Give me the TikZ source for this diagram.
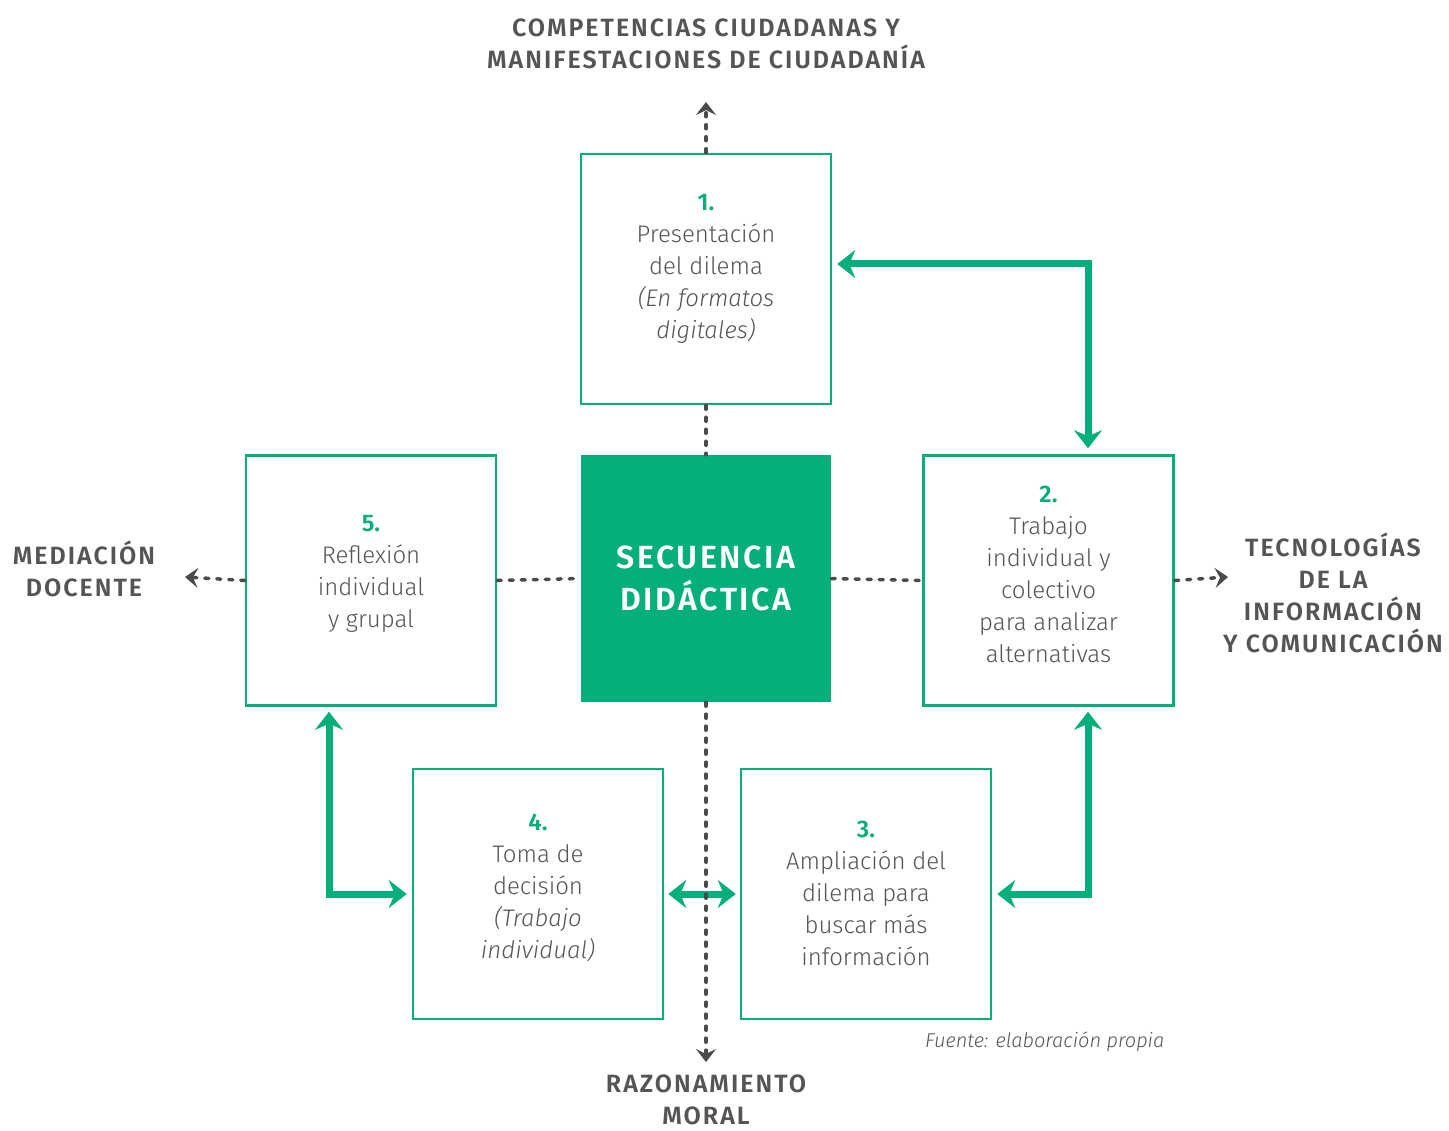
\documentclass[tikz,border=0pt]{standalone}
\usepackage{fontspec}
\setmainfont{Fira Sans Light}[ItalicFont={Fira Sans Light Italic},BoldFont={Fira Sans SemiBold}]
\newfontfamily\headfont{Fira Sans SemiBold}[LetterSpace=8]
\newfontfamily\numfont{Fira Sans SemiBold}
\usetikzlibrary{arrows.meta,calc}
\definecolor{gr}{HTML}{04AF7B}
\definecolor{tx}{HTML}{555555}
\definecolor{dl}{HTML}{4A4A4A}
\tikzset{
  box/.style={draw=gr,line width=2.5pt,minimum width=250pt,minimum height=250pt,inner sep=0pt},
  body/.style={text=tx,align=center,font=\fontsize{24}{32}\selectfont,inner sep=0pt},
  head/.style={text=tx,align=center,font=\headfont\fontsize{25}{32}\selectfont,inner sep=0pt},
  dline/.style={draw=dl,line width=3.5pt,line cap=round,dash pattern=on 4pt off 8pt},
  dtip/.style={-{Stealth[length=13pt,width=20pt,inset=5pt]}},
  garrow/.style={draw=gr,line width=7pt,{Stealth[length=18pt,width=28pt,inset=6pt]}-{Stealth[length=18pt,width=28pt,inset=6pt]}},
}
\newcommand{\nm}[1]{{\numfont\color{gr}#1}}
\begin{document}
\begin{tikzpicture}[x=1pt,y=-1pt]
\useasboundingbox[fill=white] (0,0) rectangle (1449,1131);
% boxes
\node[box] (b1) at (706,279) {};
\node[box] (b2) at (1048.5,580.5) {};
\node[box] (b5) at (371,580.5) {};
\node[box] (b4) at (538,894) {};
\node[box] (b3) at (866,894) {};
\node[fill=gr,minimum width=250pt,minimum height=247pt,inner sep=0pt] (c) at (706,578.5) {};
% box texts
\node[body] (t1) at (706,269) {\nm{1.}\\Presentación\\del dilema\\\textit{(En formatos}\\\textit{digitales)}};
\node[body] (t2) at (1048.5,574) {\nm{2.}\\Trabajo\\individual y\\colectivo\\para analizar\\alternativas};
\node[body] (t5) at (371,574) {\nm{5.}\\Reflexión\\individual\\y grupal};
\node[body] (t4) at (538,888) {\nm{4.}\\Toma de\\decisión\\\textit{(Trabajo}\\\textit{individual)}};
\node[body] (t3) at (866,893) {\nm{3.}\\Ampliación del\\dilema para\\buscar más\\información};
\node[text=white,align=center,font=\headfont\fontsize{32}{42}\selectfont,inner sep=0pt] (tc) at (706,578) {SECUENCIA\\DIDÁCTICA};
% outer labels
\node[head] (lt) at (706,44) {COMPETENCIAS CIUDADANAS Y\\MANIFESTACIONES DE CIUDADANÍA};
\node[head] (ll) at (84,569) {MEDIACIÓN\\DOCENTE};
\node[head] (lr) at (1333,593) {TECNOLOGÍAS\\DE LA\\INFORMACIÓN\\Y COMUNICACIÓN};
\node[head] (lb) at (706,1100) {RAZONAMIENTO\\MORAL};
\node[text=tx,font=\itshape\fontsize{20}{24}\selectfont,inner sep=0pt,anchor=west] (src) at (925,1042) {Fuente: elaboración propia};
% tip coordinates
\coordinate (tt) at (706,102);
\coordinate (tb) at (706,1062);
\coordinate (tl) at (185,577);
\coordinate (tr) at (1228,577);
% green arrows
\draw[garrow] ([shift={(5,-15)}]b1.east) -| ([shift={(39.5,-6)}]b2.north);
\draw[garrow] ([shift={(39.5,5)}]b2.south) |- ([xshift=5]b3.east);
\draw[garrow] ([xshift=4]b4.east) -- ([xshift=-4]b3.west);
\draw[garrow] ([shift={(-42,5)}]b5.south) |- ([xshift=-5]b4.west);
% dashed lines
\draw[dline] (b1.south) -- (c.north);
\draw[dline] (b5.east) -- (c.west);
\draw[dline] (c.east) -- (b2.west);
\draw[dline,dtip] (b1.north) -- (tt);
\draw[dline,dtip] (c.south) -- (tb);
\draw[dline,dtip] (b5.west) -- (tl);
\draw[dline,dtip] (b2.east) -- (tr);
\end{tikzpicture}
\end{document}
